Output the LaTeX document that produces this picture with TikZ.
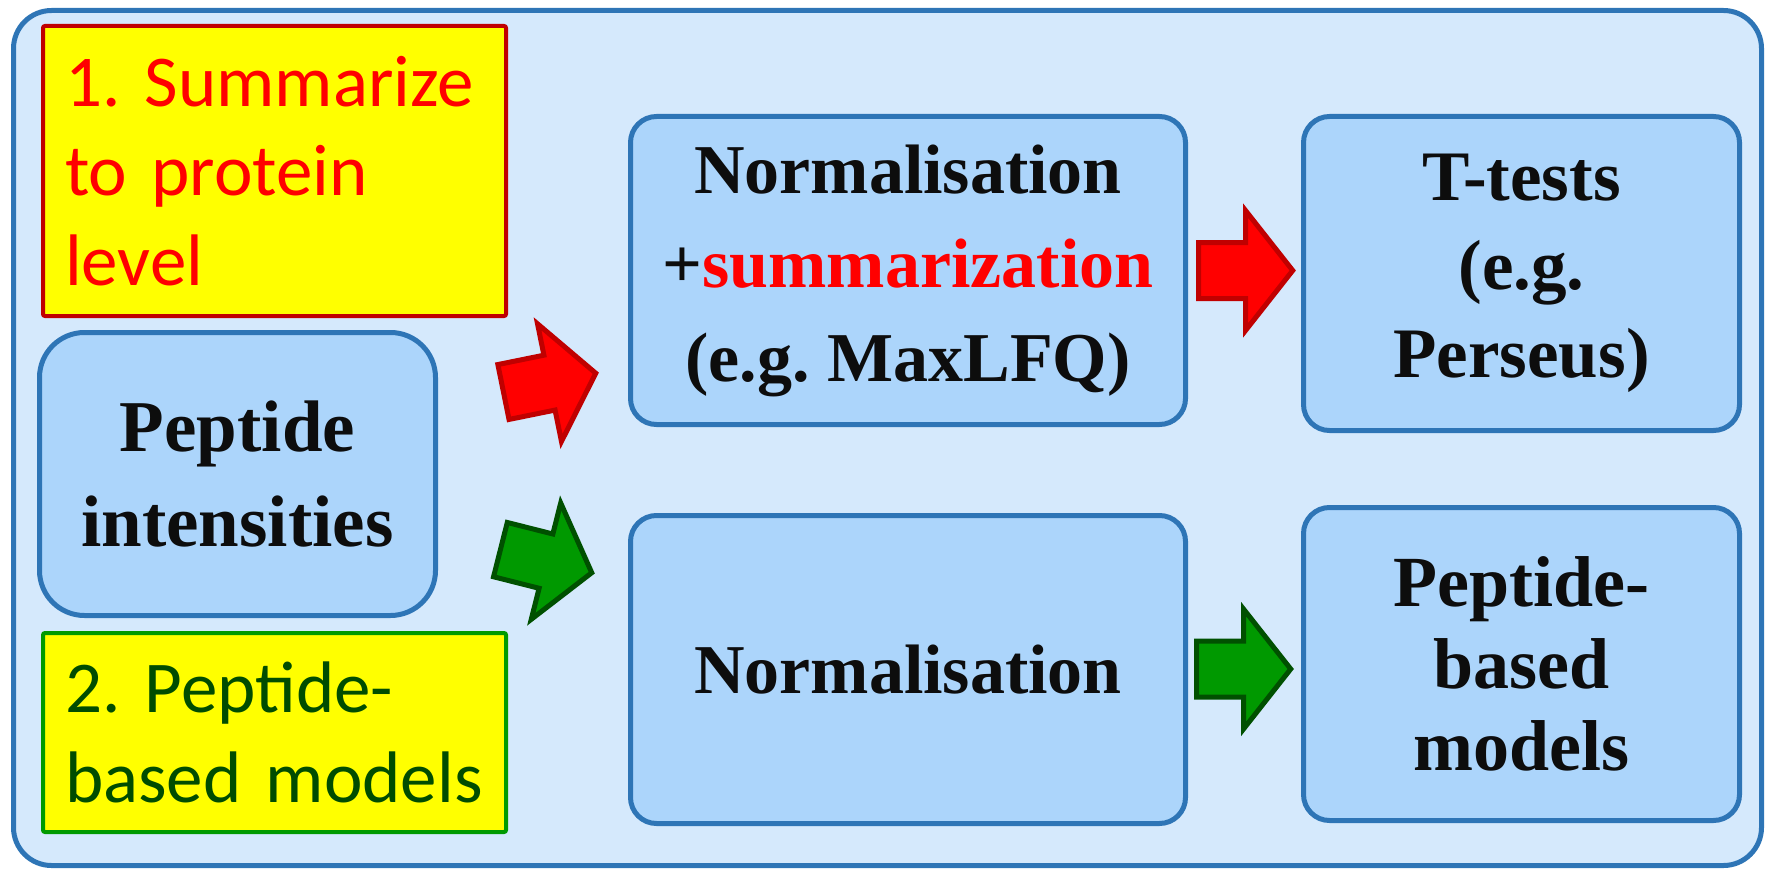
\documentclass[tikz,border=0pt]{standalone}
\usepackage{fontspec}
\setmainfont{Liberation Serif}
\newfontfamily\calib{Carlito}
\frenchspacing
\definecolor{outerfill}{HTML}{D5E9FC}
\definecolor{innerfill}{HTML}{ACD5FB}
\definecolor{borderblue}{HTML}{2E75B6}
\definecolor{textblack}{HTML}{0D0D0D}
\definecolor{redfill}{HTML}{FF0000}
\definecolor{redline}{HTML}{C00000}
\definecolor{greenfill}{HTML}{009900}
\definecolor{greenline}{HTML}{005000}
\definecolor{greentext}{HTML}{004C00}
\definecolor{boxgreen}{HTML}{009A00}
\definecolor{yellowfill}{HTML}{FFFF00}
\tikzset{
  bluebox/.style={draw=borderblue, fill=innerfill, line width=5pt, rounded corners=26pt,
    align=center, inner sep=0pt, text=textblack},
  yellowbox/.style={fill=yellowfill, line width=4pt, inner xsep=22pt, inner ysep=0pt,
    text width=419pt, align=left, minimum width=463pt, rounded corners=2pt},
  blockarrow/.pic={\path[pic actions] (2.5,-28) -- (49.5,-28) -- (49.5,-60) -- (96.7,0)
    -- (49.5,60) -- (49.5,28) -- (2.5,28) -- cycle;},
  redarrow/.style={fill=redfill, draw=redline, line width=5pt, line join=miter},
  greenarrow/.style={fill=greenfill, draw=greenline, line width=5pt, line join=miter}
}
\begin{document}
\begin{tikzpicture}[x=1pt,y=-1pt]
\useasboundingbox (0,0) rectangle (1771,869);
\node (frame) [draw=borderblue, fill=outerfill, line width=5pt, rounded corners=38pt,
  minimum width=1748pt, minimum height=855pt, inner sep=0pt] at (887.5,438) {};

\node (sum) [yellowbox, draw=redline, text=redfill, minimum height=290pt,
  font=\calib\fontsize{73}{89.5}\selectfont] at (274.5,171)
  {1. Summarize\\to protein\\level};
\node (pep) [yellowbox, draw=boxgreen, text=greentext, minimum height=199pt,
  font=\calib\fontsize{73}{90}\selectfont] at (274.5,732.5)
  {2. Peptide-\\based models};

\node (pi) [bluebox, rounded corners=45pt, minimum width=396pt, minimum height=283pt,
  font=\bfseries\fontsize{73}{95}\selectfont] at (237.5,474) {Peptide\\intensities};
\node (n1) [bluebox, minimum width=555pt, minimum height=308pt,
  font=\bfseries\fontsize{70}{94}\selectfont] at (908,270.5)
  {Normalisation\\+\textcolor{redfill}{summarization}\\(e.g. MaxLFQ)};
\node (n2) [bluebox, minimum width=555pt, minimum height=308pt,
  font=\bfseries\fontsize{70}{94}\selectfont] at (908,669.5) {Normalisation};
\node (tt) [bluebox, minimum width=436pt, minimum height=314pt,
  font=\bfseries\fontsize{71}{88.5}\selectfont] at (1521.5,273.5)
  {T-tests\\(e.g.\\Perseus)};
\node (pb) [bluebox, minimum width=436pt, minimum height=313pt,
  font=\bfseries\fontsize{72}{82}\selectfont] at (1521.5,664)
  {Peptide-\\based\\models};

\coordinate (ra1) at (501,392.5);
\coordinate (ga1) at (498,549);
\coordinate (ra2) at (1196,270.5);
\coordinate (ga2) at (1194,669);
\pic[redarrow, rotate=11.5] at (ra1) {blockarrow};
\pic[greenarrow, rotate=-14.2] at (ga1) {blockarrow};
\pic[redarrow] at (ra2) {blockarrow};
\pic[greenarrow] at (ga2) {blockarrow};
\end{tikzpicture}
\end{document}
